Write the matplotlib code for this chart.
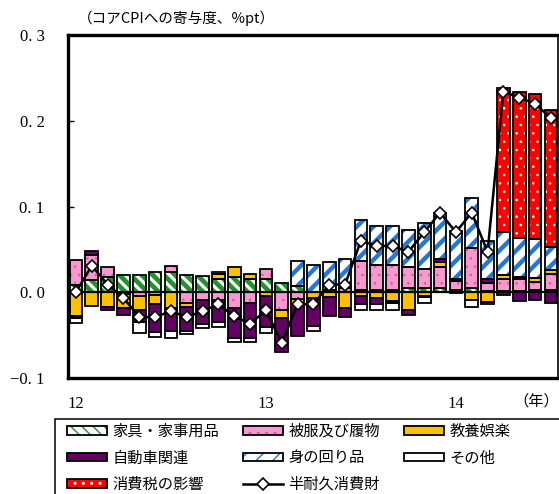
import numpy as np
import matplotlib
matplotlib.use("Agg")
import matplotlib.pyplot as plt
from matplotlib.patches import Patch, Rectangle
from matplotlib.legend_handler import HandlerTuple

plt.rcParams["font.family"] = ["Noto Sans CJK JP", "DejaVu Sans"]

# Months 2012/1 .. 2014/7
months = np.arange(31)
year_ticks = [0, 12, 24]
year_labels = ["12", "13", "14"]

# Contributions to core CPI (%pt)
furniture = [0.009, 0.014, 0.018, 0.020, 0.020, 0.024, 0.024, 0.020, 0.019, 0.016,
             0.018, 0.016, 0.016, 0.011, 0.007, 0.000, 0.003, 0.000, 0.003, 0.003,
             0.003, 0.005, 0.005, 0.005, 0.003, 0.005, 0.002, 0.002, 0.002, 0.003, 0.003]
clothing = [0.029, 0.030, 0.011, -0.002, -0.004, -0.003, 0.007, -0.012, -0.0085, -0.009,
            -0.018, -0.013, 0.011, -0.021, -0.008, 0.000, 0.000, 0.005, 0.033, 0.029,
            0.029, 0.0245, 0.022, 0.0245, 0.010, 0.047, 0.0085, 0.013, 0.013, 0.009, 0.018]
culture = [-0.028, -0.016, -0.0175, -0.016, -0.017, -0.011, -0.018, -0.005, 0.000, 0.005,
           0.011, 0.005, -0.004, -0.009, -0.0055, -0.0066, -0.0055, -0.018, -0.004, -0.0066,
           -0.0105, -0.021, -0.0047, 0.0054, -0.001, -0.0086, -0.011, 0.005, 0.003, 0.005, 0.005]
auto = [0.000, 0.004, -0.003, -0.009, -0.014, -0.032, -0.027, -0.028, -0.028, -0.026,
        -0.035, -0.040, -0.037, -0.040, -0.037, -0.033, -0.022, -0.011, -0.010, -0.0066,
        -0.002, -0.006, -0.001, 0.004, 0.002, 0.000, 0.005, -0.003, -0.0105, -0.009, -0.0125]
personal = [-0.002, 0.000, 0.000, 0.000, 0.000, 0.000, 0.000, 0.000, 0.000, 0.003,
            0.000, 0.000, 0.000, 0.000, 0.030, 0.032, 0.032, 0.034, 0.048, 0.045,
            0.045, 0.0436, 0.054, 0.054, 0.056, 0.058, 0.044, 0.050, 0.045, 0.045, 0.027]
other = [-0.006, 0.000, 0.000, 0.000, -0.013, -0.006, -0.008, -0.004, -0.005, -0.005,
         -0.005, -0.005, -0.007, 0.000, 0.000, -0.006, 0.000, 0.000, -0.007, -0.0078,
         -0.008, 0.000, -0.007, 0.000, 0.000, -0.009, -0.003, 0.000, 0.000, 0.000, 0.000]
tax = [0.0] * 27 + [0.168, 0.171, 0.169, 0.160]
semi_durable = [0.000, 0.031, 0.009, -0.0066, -0.029, -0.029, -0.022, -0.029, -0.022, -0.014,
                -0.028, -0.037, -0.021, -0.059, -0.014, -0.014, 0.009, 0.009, 0.060, 0.054,
                0.054, 0.047, 0.070, 0.093, 0.070, 0.093, 0.047, 0.234, 0.227, 0.220, 0.203]

GREEN = "#23912f"
PINK = "#f799cf"
PINK_DOT = "#d8589e"
ORANGE = "#ffc000"
PURPLE = "#640064"
BLUE = "#2478d4"
RED = "#ff0000"

# (values, label, face colour, hatch, hatch colour, hatch line width)
series = [
    (furniture, "家具・家事用品", "white", "\\\\\\", GREEN, 3.4),
    (clothing, "被服及び履物", PINK, "..", PINK_DOT, 0.6),
    (culture, "教養娯楽", ORANGE, None, None, 1.0),
    (auto, "自動車関連", PURPLE, None, None, 1.0),
    (personal, "身の回り品", "white", "//", BLUE, 3.2),
    (other, "その他", "white", None, None, 1.0),
    (tax, "消費税の影響", RED, "..", "white", 0.6),
]

W, H = 559, 494
fig = plt.figure(figsize=(W / 100, H / 100), dpi=100)
ax = fig.add_axes([68 / W, 1 - 378 / H, (558 - 68) / W, (378 - 35) / H])

width = 0.8
edge_lw = 1.3
n = len(months)
pos_base = np.zeros(n)
neg_base = np.zeros(n)
handles = {}
for vals, label, face, hatch, hcol, hlw in series:
    v = np.asarray(vals, dtype=float)
    bottom = np.where(v >= 0, pos_base, neg_base)
    m = v != 0
    x, h, b = months[m], v[m], bottom[m]
    ax.bar(x, h, width, bottom=b, color=face, lw=0, zorder=2)
    parts = [Patch(facecolor=face, lw=0)]
    if hatch:
        with plt.rc_context({"hatch.linewidth": hlw}):
            ax.bar(x, h, width, bottom=b, facecolor="none", edgecolor=hcol,
                   hatch=hatch, lw=0, zorder=2.1)
            parts.append(Patch(facecolor="none", edgecolor=hcol, hatch=hatch, lw=0))
    ax.bar(x, h, width, bottom=b, facecolor="none", edgecolor="black",
           lw=edge_lw, zorder=2.2)
    parts.append(Patch(facecolor="none", edgecolor="black", lw=edge_lw))
    handles[label] = tuple(parts)
    pos_base += np.where(v > 0, v, 0)
    neg_base += np.where(v < 0, v, 0)

ax.axhline(0, color="black", lw=1.6, zorder=3)
line, = ax.plot(months, semi_durable, color="black", lw=1.8, marker="D",
                markersize=6.5, markerfacecolor="white", markeredgecolor="black",
                markeredgewidth=1.2, zorder=4)
handles["半耐久消費財"] = line

ax.set_xlim(-0.5, 30.45)
ax.set_ylim(-0.1, 0.3)

num_font = ["Liberation Serif", "Noto Sans CJK JP"]
yticks = [-0.1, 0.0, 0.1, 0.2, 0.3]
ax.set_yticks(yticks)
ax.set_yticklabels([("−" if t < 0 else "") + f"{abs(t):.1f}".replace(".", ". ") for t in yticks],
                   fontfamily=num_font, fontsize=12)
ax.tick_params(axis="y", direction="in", length=4, width=1, pad=17)
ax.set_xticks(year_ticks)
ax.set_xticklabels(year_labels, fontfamily=num_font, fontsize=12)
ax.tick_params(axis="x", length=0, pad=13)
ax.text(0.955, -0.067, "（年）", transform=ax.transAxes, ha="center", va="center", fontsize=11)

for side in ["left", "top", "bottom"]:
    ax.spines[side].set_linewidth(2.4)
ax.spines["right"].set_linewidth(1.2)

fig.text(78 / W, 1 - 18 / H, "（コアCPIへの寄与度、%pt）", ha="left", va="center", fontsize=10.5)

order = ["家具・家事用品", "自動車関連", "消費税の影響",
         "被服及び履物", "身の回り品", "半耐久消費財",
         "教養娯楽", "その他"]
leg = fig.legend([handles[k] for k in order], order, ncol=3,
                 handler_map={tuple: HandlerTuple(ndivide=1)},
                 loc="upper left", bbox_to_anchor=(67 / W, 1 - 423 / H),
                 frameon=False, fontsize=11, borderpad=0, borderaxespad=0,
                 handlelength=2.6, handleheight=0.45, handletextpad=0.35,
                 columnspacing=1.6, labelspacing=0.62)
fig.add_artist(Rectangle((55 / W, -0.1), 1.0, 1 - 419 / H + 0.1,
                         transform=fig.transFigure, facecolor="none",
                         edgecolor="black", lw=1.1, clip_on=False))

fig.savefig("out.png", dpi=100)
